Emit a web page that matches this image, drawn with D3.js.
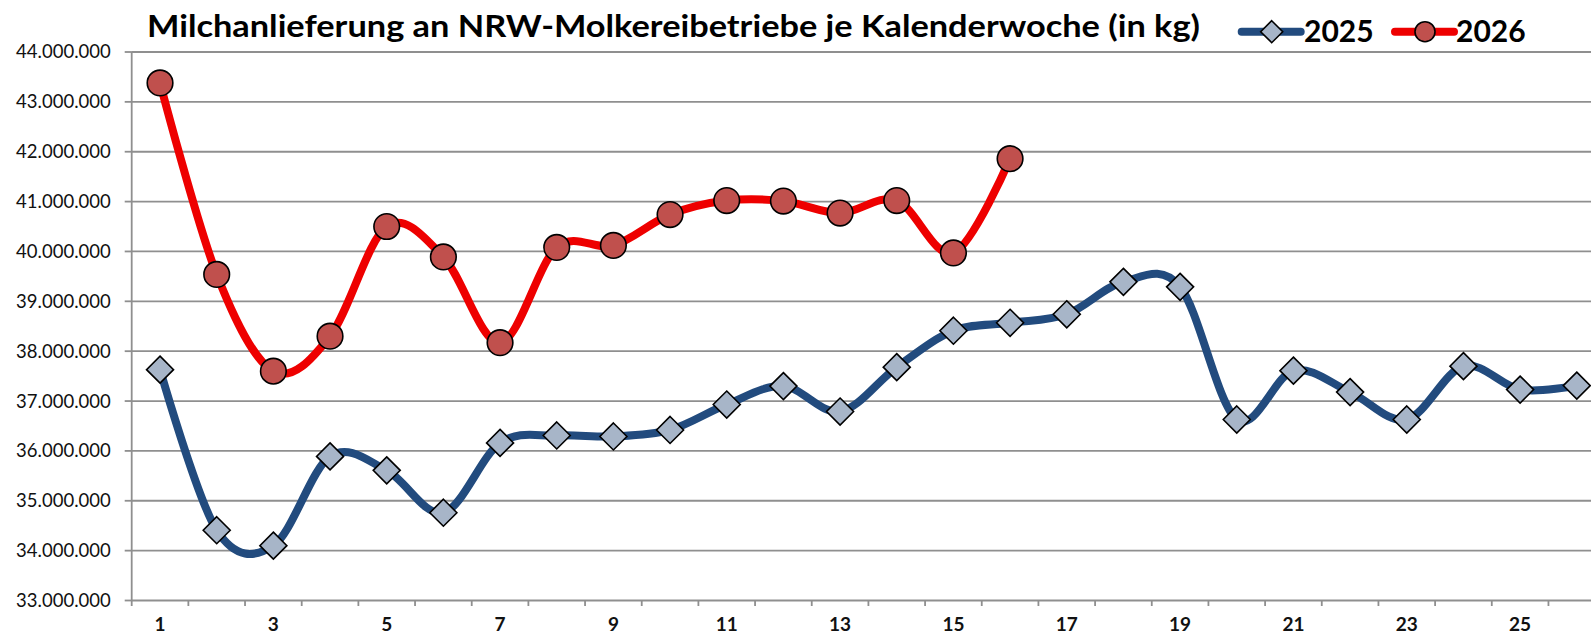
<!DOCTYPE html>
<html>
<head>
<meta charset="utf-8">
<script src="https://cdn.jsdelivr.net/npm/d3@7"></script>
<style>
  html, body { margin: 0; padding: 0; background: #fff; overflow: hidden; }
  svg { display: block; }
</style>
</head>
<body>
<script>
// ---- Data ----
const weeks = [1,2,3,4,5,6,7,8,9,10,11,12,13,14,15,16,17,18,19,20,21,22,23,24,25,26];
const xTickLabels = [1,3,5,7,9,11,13,15,17,19,21,23,25];
const yTicks = [33000000,34000000,35000000,36000000,37000000,38000000,39000000,40000000,41000000,42000000,43000000,44000000];
const seriesNames = ["2025", "2026"];
const values2025 = [37620000, 34400000, 34090000, 35880000, 35600000, 34750000, 36150000, 36300000, 36280000, 36410000,
                    36920000, 37290000, 36780000, 37670000, 38400000, 38560000, 38730000, 39380000, 39280000, 36620000,
                    37600000, 37170000, 36620000, 37690000, 37220000, 37300000];
const values2026 = [43370000, 39530000, 37590000, 38290000, 40490000, 39880000, 38160000, 40070000, 40110000, 40730000,
                    41010000, 41000000, 40760000, 41010000, 39960000, 41850000];
const titleText = "Milchanlieferung an NRW-Molkereibetriebe je Kalenderwoche (in kg)";

// ---- Layout ----
const W = 1591, H = 638;
const plotLeft = 131.7, plotBottom = 600, plotTop = 51.5;
const band = 56.67;

const svg = d3.select("body").append("svg").attr("width", W).attr("height", H);

const x = d3.scaleBand().domain(weeks).range([plotLeft, plotLeft + band * weeks.length]).padding(0);
const y = d3.scaleLinear().domain([33000000, 44000000]).range([plotBottom, plotTop]);
const cx = w => x(w) + x.bandwidth() / 2;

const de = d3.formatLocale({decimal: ",", thousands: ".", grouping: [3], currency: ["", " €"]});
const fmt = de.format(",.0f");

const gridColor = "#8f8f8f";

// gridlines
const grid = svg.append("g").attr("transform", `translate(${plotLeft},0)`)
  .call(d3.axisLeft(y).tickValues(yTicks).tickSize(-(W - plotLeft)).tickFormat(""));
grid.select(".domain").remove();
grid.selectAll("line").attr("stroke", gridColor).attr("stroke-width", 1.8);

// y axis with ticks + labels
const yAxis = svg.append("g").attr("transform", `translate(${plotLeft},0)`)
  .call(d3.axisLeft(y).tickValues(yTicks).tickSize(7).tickSizeOuter(0).tickPadding(14).tickFormat(fmt));
yAxis.select(".domain").remove();
yAxis.selectAll("line").attr("stroke", gridColor).attr("stroke-width", 1.8);
yAxis.selectAll("text").attr("fill", "#111").style("font-family", "Lato, 'Open Sans', sans-serif")
  .style("font-size", "18.5px").attr("dy", "0.35em");

// y axis line
svg.append("line").attr("x1", plotLeft).attr("x2", plotLeft).attr("y1", plotTop).attr("y2", plotBottom + 6)
  .attr("stroke", gridColor).attr("stroke-width", 1.8);

// x axis: boundary ticks
const xTicksG = svg.append("g");
xTicksG.selectAll("line").data(weeks.slice(1)).join("line")
  .attr("x1", d => x(d)).attr("x2", d => x(d)).attr("y1", plotBottom).attr("y2", plotBottom + 6)
  .attr("stroke", gridColor).attr("stroke-width", 1.8);

// x labels
const xAxis = svg.append("g").attr("transform", `translate(0,${plotBottom})`)
  .call(d3.axisBottom(x).tickValues(xTickLabels).tickSize(0).tickPadding(18));
xAxis.select(".domain").remove();
xAxis.selectAll("text").attr("fill", "#111").style("font-family", "Lato, 'Open Sans', sans-serif")
  .style("font-size", "19px").style("font-weight", "bold");

// ---- Lines ----
const line = d3.line().x((d, i) => cx(weeks[i])).y(d => y(d)).curve(d3.curveCardinal.tension(0));

const c2025 = "#224b7e", c2026 = "#ee0000";
const fill2025 = "#a7b5c8", fill2026 = "#c0504d";

svg.append("path").datum(values2025).attr("d", line)
  .attr("fill", "none").attr("stroke", c2025).attr("stroke-width", 8).attr("stroke-linejoin", "round");
svg.append("path").datum(values2026).attr("d", line)
  .attr("fill", "none").attr("stroke", c2026).attr("stroke-width", 8).attr("stroke-linejoin", "round");

const diamond = s => `M0,${-s}L${s},0L0,${s}L${-s},0Z`;

svg.append("g").selectAll("path").data(values2025).join("path")
  .attr("transform", (d, i) => `translate(${cx(weeks[i])},${y(d)})`)
  .attr("d", diamond(13.5))
  .attr("fill", fill2025).attr("stroke", "#000").attr("stroke-width", 1.6);

svg.append("g").selectAll("circle").data(values2026).join("circle")
  .attr("cx", (d, i) => cx(weeks[i])).attr("cy", d => y(d)).attr("r", 12.8)
  .attr("fill", fill2026).attr("stroke", "#000").attr("stroke-width", 1.6);

// ---- Title ----
svg.append("text").attr("x", 147).attr("y", 37)
  .attr("textLength", 1053).attr("lengthAdjust", "spacingAndGlyphs")
  .style("font-family", "Lato, 'Open Sans', sans-serif").style("font-weight", "bold").style("font-size", "30px")
  .attr("fill", "#000").text(titleText);

// ---- Legend ----
const legend = [
  {name: seriesNames[0], x0: 1241.7, color: c2025, fill: fill2025, shape: "diamond", tx: 1304},
  {name: seriesNames[1], x0: 1395, color: c2026, fill: fill2026, shape: "circle", tx: 1456}
];
const lg = svg.append("g");
legend.forEach(l => {
  lg.append("line").attr("x1", l.x0).attr("x2", l.x0 + 59).attr("y1", 31.7).attr("y2", 31.7)
    .attr("stroke", l.color).attr("stroke-width", 8).attr("stroke-linecap", "round");
  if (l.shape === "diamond") {
    lg.append("path").attr("transform", `translate(${l.x0 + 30},31.7)`).attr("d", diamond(11))
      .attr("fill", l.fill).attr("stroke", "#000").attr("stroke-width", 1.6);
  } else {
    lg.append("circle").attr("cx", l.x0 + 30).attr("cy", 31.7).attr("r", 10)
      .attr("fill", l.fill).attr("stroke", "#000").attr("stroke-width", 1.6);
  }
  lg.append("text").attr("x", l.tx).attr("y", 42)
    .style("font-family", "Lato, 'Open Sans', sans-serif").style("font-weight", "bold").style("font-size", "30px")
    .attr("fill", "#000").text(l.name);
});
</script>
</body>
</html>
